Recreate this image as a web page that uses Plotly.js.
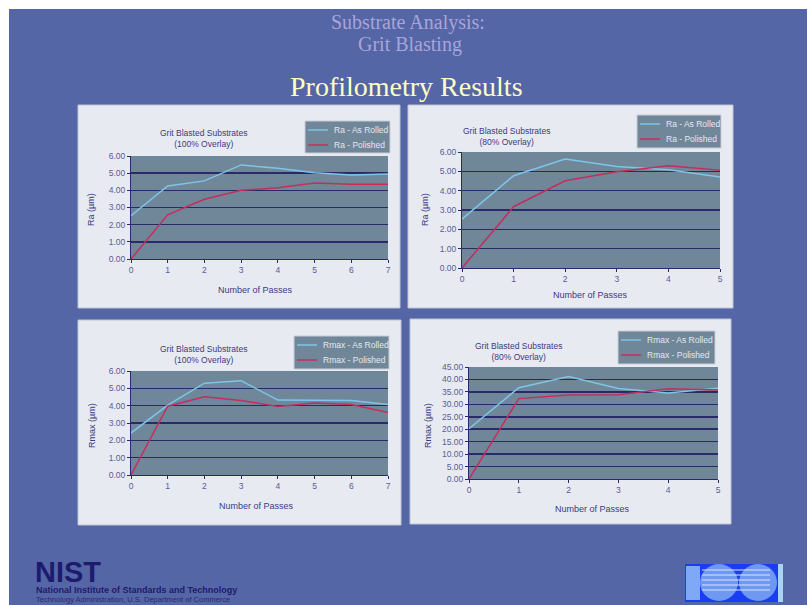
<!DOCTYPE html>
<html><head><meta charset="utf-8">
<script src="https://cdn.plot.ly/plotly-3.0.1.min.js"></script>
<style>html,body{margin:0;padding:0;background:#fff;overflow:hidden;} #chart{width:810px;height:605px;}</style>
</head><body><div id="chart"></div>
<script>
// ---- data ----
const passes7 = [0, 1, 2, 3, 4, 5, 6, 7];
const passes5 = [0, 1, 2, 3, 4, 5];
const ra100Rolled   = [2.52, 4.25, 4.55, 5.48, 5.28, 5.03, 4.90, 4.95];
const ra100Polished = [0.00, 2.57, 3.48, 4.00, 4.15, 4.43, 4.35, 4.35];
const ra80Rolled    = [2.53, 4.77, 5.64, 5.25, 5.08, 4.70];
const ra80Polished  = [0.00, 3.17, 4.51, 4.98, 5.29, 5.06];
const rmax100Rolled   = [2.42, 4.03, 5.30, 5.44, 4.32, 4.30, 4.30, 4.07];
const rmax100Polished = [0.00, 3.97, 4.51, 4.30, 3.95, 4.16, 4.07, 3.60];
const rmax80Rolled    = [20.2, 36.7, 41.2, 36.4, 34.6, 36.5];
const rmax80Polished  = [0.0, 32.3, 33.8, 33.9, 36.3, 35.8];
const seriesNames = ["Ra - As Rolled", "Ra - Polished", "Rmax - As Rolled", "Rmax - Polished"];
const chartTitles = ["Grit Blasted Substrates<br>(100% Overlay)", "Grit Blasted Substrates<br>(80% Overlay)"];
const yTitles = ["Ra (µm)", "Rmax (µm)"];
const xTitle = "Number of Passes";

// ---- layout helpers ----
const W = 810, H = 605;
const px = x => x / W, py = y => 1 - y / H;
const ROLLED = '#7DC6EA', POLISHED = '#C42E5E';
const NAVY = '#2A2A6A', TICK = '#5B5B9A', LABEL = '#3C3A84';
const PANEL_BG = '#E7EAF0', PLOT_BG = '#708799';
const FONT = 'Liberation Sans, Arial, sans-serif';

const panels = [
  {box: [78, 105, 400, 308], plot: [131, 156, 388, 259], leg: [305, 121, 390, 153], title: [204, 138], ytl: [91, 210], xtl: [255, 290],
   x: passes7, a: ra100Rolled, b: ra100Polished, na: seriesNames[0], nb: seriesNames[1], t: chartTitles[0], yt: yTitles[0], xr: [0, 7], yr: [0, 6], dt: 1},
  {box: [408, 105, 733, 308], plot: [462, 152, 720, 268], leg: [637, 115, 721, 148], title: [506, 136], ytl: [425, 210], xtl: [590, 295],
   x: passes5, a: ra80Rolled, b: ra80Polished, na: seriesNames[0], nb: seriesNames[1], t: chartTitles[1], yt: yTitles[0], xr: [0, 5], yr: [0, 6], dt: 1},
  {box: [78, 320, 401, 525], plot: [131, 371, 388, 475], leg: [294, 336, 389, 369], title: [204, 354], ytl: [92, 426], xtl: [256, 506],
   x: passes7, a: rmax100Rolled, b: rmax100Polished, na: seriesNames[2], nb: seriesNames[3], t: chartTitles[0], yt: yTitles[1], xr: [0, 7], yr: [0, 6], dt: 1},
  {box: [410, 319, 731, 524], plot: [469, 367, 718, 479], leg: [618, 331, 715, 364], title: [518, 351], ytl: [428, 425], xtl: [592, 509],
   x: passes5, a: rmax80Rolled, b: rmax80Polished, na: seriesNames[2], nb: seriesNames[3], t: chartTitles[1], yt: yTitles[1], xr: [0, 5], yr: [0, 45], dt: 5}
];

const traces = [];
const shapes = [
  {type: 'rect', xref: 'paper', yref: 'paper', x0: px(9), x1: px(807), y0: py(9), y1: py(605), fillcolor: '#5466A5', line: {width: 0}, layer: 'below'}
];
const annotations = [];
const layout = {
  width: W, height: H, margin: {l: 0, r: 0, t: 0, b: 0},
  paper_bgcolor: '#ffffff', plot_bgcolor: 'rgba(0,0,0,0)',
  showlegend: false, hovermode: false, font: {family: FONT}
};

panels.forEach((p, i) => {
  const n = i === 0 ? '' : String(i + 1);
  const xa = 'x' + n, ya = 'y' + n;
  traces.push({x: p.x, y: p.a, name: p.na, type: 'scatter', mode: 'lines', xaxis: xa, yaxis: ya, showlegend: false,
               line: {color: ROLLED, width: 1.5}});
  traces.push({x: p.x, y: p.b, name: p.nb, type: 'scatter', mode: 'lines', xaxis: xa, yaxis: ya, showlegend: false,
               line: {color: POLISHED, width: 1.5}});
  layout['xaxis' + n] = {
    domain: [px(p.plot[0]), px(p.plot[2])], anchor: ya, range: p.xr, dtick: 1,
    showgrid: false, zeroline: false, showline: true, linecolor: NAVY, linewidth: 1,
    ticks: 'outside', ticklen: 3, tickcolor: NAVY, tickfont: {family: FONT, size: 8.5, color: TICK}, fixedrange: true
  };
  layout['yaxis' + n] = {
    domain: [py(p.plot[3]), py(p.plot[1])], anchor: xa, range: p.yr, dtick: p.dt, tickformat: '.2f',
    showgrid: true, gridcolor: NAVY, gridwidth: 1.5, zeroline: false, showline: true, linecolor: NAVY, linewidth: 1,
    ticks: 'outside', ticklen: 3, tickcolor: NAVY, tickfont: {family: FONT, size: 8.5, color: TICK}, fixedrange: true
  };
  // panel + plot area backgrounds
  shapes.push({type: 'rect', xref: 'paper', yref: 'paper', x0: px(p.box[0]), x1: px(p.box[2]), y0: py(p.box[3]), y1: py(p.box[1]),
               fillcolor: PANEL_BG, line: {color: '#BFC4D4', width: 1}, layer: 'below'});
  shapes.push({type: 'rect', xref: 'paper', yref: 'paper', x0: px(p.plot[0]), x1: px(p.plot[2]), y0: py(p.plot[3]), y1: py(p.plot[1]),
               fillcolor: PLOT_BG, line: {width: 0}, layer: 'below'});
  // legend box (drawn as in the original slide)
  const L = p.leg;
  shapes.push({type: 'rect', xref: 'paper', yref: 'paper', x0: px(L[0]), x1: px(L[2]), y0: py(L[3]), y1: py(L[1]),
               fillcolor: PLOT_BG, line: {color: '#C9CDD8', width: 1}});
  [[p.na, ROLLED, 9], [p.nb, POLISHED, 24]].forEach(([name, col, dy]) => {
    shapes.push({type: 'line', xref: 'paper', yref: 'paper', x0: px(L[0] + 3), x1: px(L[0] + 23), y0: py(L[1] + dy), y1: py(L[1] + dy),
                 line: {color: col, width: 1.5}});
    annotations.push({xref: 'paper', yref: 'paper', x: px(L[0] + 27), y: py(L[1] + dy), text: name, showarrow: false,
                      font: {family: FONT, size: 8.5, color: '#E4E8EE'}, xanchor: 'left', yanchor: 'middle'});
  });
  annotations.push({xref: 'paper', yref: 'paper', x: px(p.title[0]), y: py(p.title[1]), text: p.t, showarrow: false,
                    font: {family: FONT, size: 8.5, color: LABEL}, xanchor: 'center', yanchor: 'middle', align: 'center'});
  annotations.push({xref: 'paper', yref: 'paper', x: px(p.ytl[0]), y: py(p.ytl[1]), text: p.yt, showarrow: false, textangle: -90,
                    font: {family: FONT, size: 9, color: LABEL}, xanchor: 'center', yanchor: 'middle'});
  annotations.push({xref: 'paper', yref: 'paper', x: px(p.xtl[0]), y: py(p.xtl[1]), text: xTitle, showarrow: false,
                    font: {family: FONT, size: 9, color: LABEL}, xanchor: 'center', yanchor: 'middle'});
});

// slide titles
annotations.push({xref: 'paper', yref: 'paper', x: px(408), y: py(22), text: 'Substrate Analysis:', showarrow: false,
                  font: {family: 'Liberation Serif, Times New Roman, serif', size: 20, color: '#A9A4DA'}, xanchor: 'center', yanchor: 'middle'});
annotations.push({xref: 'paper', yref: 'paper', x: px(410), y: py(45), text: 'Grit Blasting', showarrow: false,
                  font: {family: 'Liberation Serif, Times New Roman, serif', size: 20, color: '#A9A4DA'}, xanchor: 'center', yanchor: 'middle'});
annotations.push({xref: 'paper', yref: 'paper', x: px(406), y: py(87), text: 'Profilometry Results', showarrow: false,
                  font: {family: 'Liberation Serif, Times New Roman, serif', size: 28, color: '#FFFFC6'}, xanchor: 'center', yanchor: 'middle'});

// footer
annotations.push({xref: 'paper', yref: 'paper', x: px(33), y: py(572), text: '<b>NIST</b>', showarrow: false,
                  font: {family: FONT, size: 29, color: '#1E1B6E'}, xanchor: 'left', yanchor: 'middle'});
annotations.push({xref: 'paper', yref: 'paper', x: px(34), y: py(590), text: '<b>National Institute of Standards and Technology</b>', showarrow: false,
                  font: {family: FONT, size: 9, color: '#1E1B6E'}, xanchor: 'left', yanchor: 'middle'});
annotations.push({xref: 'paper', yref: 'paper', x: px(34), y: py(599.5), text: 'Technology Administration, U.S. Department of Commerce', showarrow: false,
                  font: {family: FONT, size: 7.5, color: '#2B2A72'}, xanchor: 'left', yanchor: 'middle'});

// centennial logo
shapes.push({type: 'rect', xref: 'paper', yref: 'paper', x0: px(685), x1: px(778), y0: py(602), y1: py(564), fillcolor: '#1A3CF2', line: {width: 0}});
shapes.push({type: 'rect', xref: 'paper', yref: 'paper', x0: px(686), x1: px(700), y0: py(600), y1: py(566), fillcolor: '#7FA9F6', line: {width: 0}});
shapes.push({type: 'circle', xref: 'paper', yref: 'paper', x0: px(700), x1: px(738), y0: py(601), y1: py(564), fillcolor: '#6F98F2', line: {width: 0}});
shapes.push({type: 'circle', xref: 'paper', yref: 'paper', x0: px(739), x1: px(777), y0: py(601), y1: py(564), fillcolor: '#6F98F2', line: {width: 0}});
[570, 575, 580, 585, 590].forEach(yy => {
  shapes.push({type: 'line', xref: 'paper', yref: 'paper', x0: px(702), x1: px(770), y0: py(yy), y1: py(yy), line: {color: '#DCE8FF', width: 1}});
});
shapes.push({type: 'rect', xref: 'paper', yref: 'paper', x0: px(778), x1: px(783), y0: py(602), y1: py(564), fillcolor: '#A9D2F6', line: {width: 0}});

layout.shapes = shapes;
layout.annotations = annotations;

Plotly.newPlot('chart', traces, layout, {displayModeBar: false, staticPlot: true});
</script>
</body></html>
